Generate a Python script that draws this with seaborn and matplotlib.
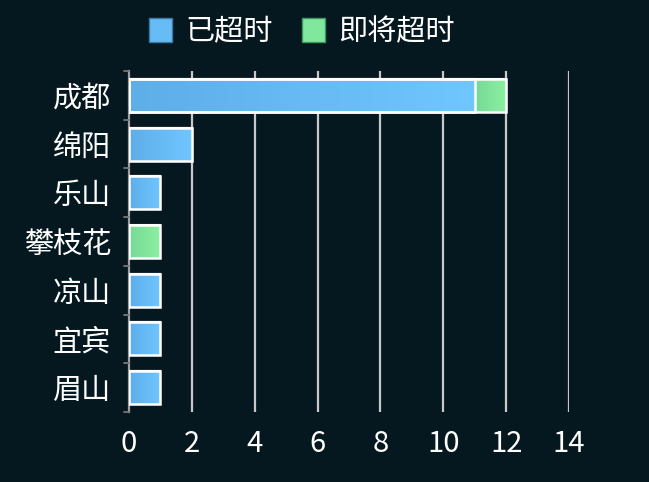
import numpy as np
import pandas as pd
import matplotlib
matplotlib.use("Agg")
import matplotlib.pyplot as plt
import seaborn as sns
from matplotlib.colors import LinearSegmentedColormap
from matplotlib.patches import Patch

cities = ["成都", "绵阳", "乐山", "攀枝花", "凉山", "宜宾", "眉山"]
overdue = [11, 2, 1, 0, 1, 1, 1]
soon = [1, 0, 0, 1, 0, 0, 0]
series_names = ["已超时", "即将超时"]
xticks = [0, 2, 4, 6, 8, 10, 12, 14]

BG = "#051820"
sns.set_theme(style="dark")
plt.rcParams["font.family"] = ["Noto Sans CJK SC", "DejaVu Sans"]

fig = plt.figure(figsize=(6.49, 4.82), dpi=100, facecolor=BG)
ax = fig.add_axes([129/649, (482-412)/482, (569-129)/649, (412-71)/482])
ax.set_facecolor(BG)

df = pd.DataFrame({"city": cities, "overdue": overdue,
                   "total": np.array(overdue) + np.array(soon)})

sns.barplot(data=df, y="city", x="total", color="#80e89c", orient="h",
            width=0.68, edgecolor="white", linewidth=1.5, ax=ax, zorder=3)
n_green = len(ax.patches)
sns.barplot(data=df, y="city", x="overdue", color="#68bcf6", orient="h",
            width=0.68, edgecolor="white", linewidth=1.5, ax=ax, zorder=4)

blue_cmap = LinearSegmentedColormap.from_list("b", ["#5eaee8", "#70c6ff"])
green_cmap = LinearSegmentedColormap.from_list("g", ["#78d896", "#8af2a2"])
grad = np.linspace(0, 1, 256).reshape(1, -1)

for i, p in enumerate(ax.patches):
    w = p.get_width()
    if w <= 0:
        p.set_visible(False)
        continue
    x0, y0, h = p.get_x(), p.get_y(), p.get_height()
    if i < n_green:
        idx = i
        if soon[idx] == 0:
            continue
        im = ax.imshow(grad, cmap=green_cmap, aspect="auto",
                       extent=(overdue[idx], x0 + w, y0 + h, y0), zorder=3.5)
    else:
        im = ax.imshow(grad, cmap=blue_cmap, aspect="auto",
                       extent=(x0, x0 + w, y0 + h, y0), zorder=4.5)
    p.set_facecolor("none")
    border = plt.Rectangle((x0, y0), w, h, fill=False, edgecolor="white",
                           linewidth=1.8, zorder=5)
    ax.add_patch(border)
    im.set_clip_path(p)

ax.set_xlim(0, 14)
ax.set_ylim(len(cities) - 0.5, -0.5)
ax.set_xticks(xticks)
ax.set_xticklabels([str(t) for t in xticks], color="white", fontsize=21)
ax.set_xlabel("")
ax.set_ylabel("")
ax.tick_params(axis="x", length=0, pad=12)
ax.tick_params(axis="y", length=0, pad=13, labelcolor="white", labelsize=21)

for t in xticks[1:]:
    ax.axvline(t, color="#c8c8c8", linewidth=1.6, zorder=1)

for s in ["top", "right", "bottom"]:
    ax.spines[s].set_visible(False)
ax.spines["left"].set_color("#a0a0a0")
ax.spines["left"].set_linewidth(1.6)
ax.grid(False)

for b in np.arange(-0.5, len(cities) - 0.4, 1.0):
    ax.plot([-0.17, 0], [b, b], color="#777777", linewidth=1.3,
            clip_on=False, zorder=6)

handles = [Patch(facecolor="#68bcf6", edgecolor="#3a7aa8", label=series_names[0]),
           Patch(facecolor="#80e89c", edgecolor="#3a9a60", label=series_names[1])]
fig.legend(handles=handles, loc="center", bbox_to_anchor=(0.465, 0.934), ncol=2,
           frameon=False, fontsize=21, labelcolor="white", handlelength=0.8,
           handleheight=0.9, handletextpad=0.45, columnspacing=1.0)

fig.savefig("out.png", dpi=100, facecolor=BG)
